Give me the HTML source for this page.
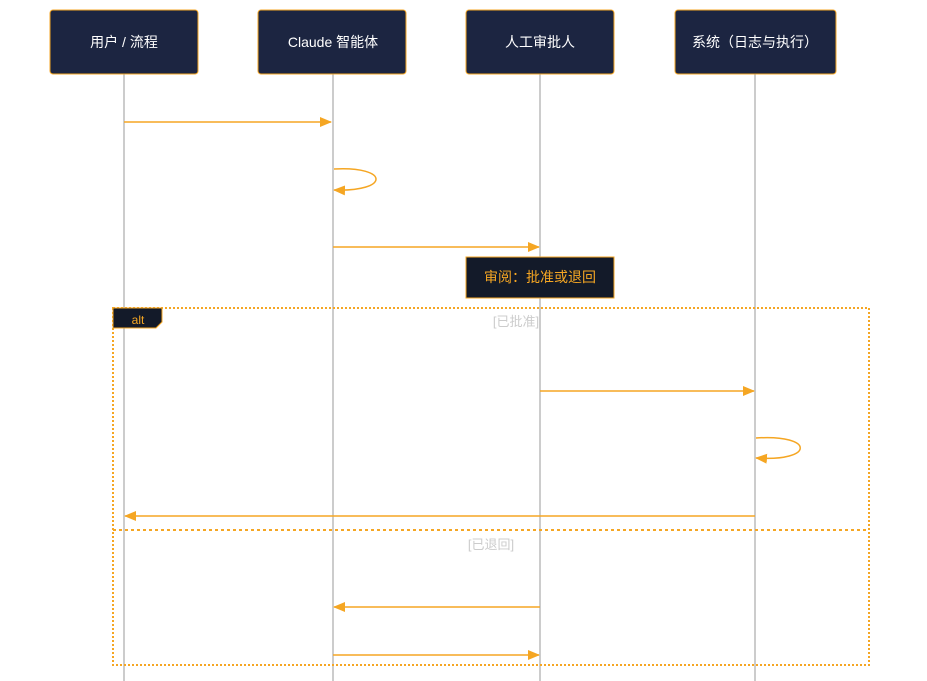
<!DOCTYPE html>
<html><head><meta charset="utf-8"><style>
html,body{margin:0;padding:0;background:#fff;width:927px;height:681px;overflow:hidden}
text{font-family:"Liberation Sans","Noto Sans CJK SC",sans-serif}
</style></head><body>
<svg width="927" height="681" viewBox="0 0 927 681" xmlns="http://www.w3.org/2000/svg">
<defs>
<marker id="a" markerWidth="12" markerHeight="10" refX="11" refY="5" orient="auto" markerUnits="userSpaceOnUse">
<path d="M0,0 L12,5 L0,10 z" fill="#f5a623"/></marker>
</defs>
<g stroke="#ccc" stroke-width="2">
<line x1="124" y1="74" x2="124" y2="681"/>
<line x1="333" y1="74" x2="333" y2="681"/>
<line x1="540" y1="74" x2="540" y2="681"/>
<line x1="755" y1="74" x2="755" y2="681"/>
</g>
<g fill="#1c2541" stroke="#f5a623" stroke-width="1">
<rect x="50" y="10" width="148" height="64" rx="3"/>
<rect x="258" y="10" width="148" height="64" rx="3"/>
<rect x="466" y="10" width="148" height="64" rx="3"/>
<rect x="675" y="10" width="161" height="64" rx="3"/>
</g>
<g fill="#fff" font-size="14" text-anchor="middle">
<text x="124" y="47">用户 / 流程</text>
<text x="333" y="47">Claude 智能体</text>
<text x="540" y="47">人工审批人</text>
<text x="755" y="47">系统（日志与执行）</text>
</g>
<g stroke="#f5a623" stroke-width="1.5" fill="none" marker-end="url(#a)">
<line x1="124" y1="122" x2="331" y2="122"/>
<path d="M334,169 C390,166 390,192 334,190"/>
<line x1="333" y1="247" x2="539" y2="247"/>
<line x1="540" y1="391" x2="754" y2="391"/>
<path d="M756,438 C815,434 815,462 756,458"/>
<line x1="755" y1="516" x2="125" y2="516"/>
<line x1="540" y1="607" x2="334" y2="607"/>
<line x1="333" y1="655" x2="539" y2="655"/>
</g>
<rect x="466" y="257" width="148" height="41" fill="#131a29" stroke="#f5a623"/>
<text x="540" y="282" fill="#f5a623" font-size="14" text-anchor="middle">审阅：批准或退回</text>
<rect x="113" y="308" width="756" height="357" fill="none" stroke="#f5a623" stroke-width="2" stroke-dasharray="2,2"/>
<line x1="113" y1="530" x2="869" y2="530" stroke="#f5a623" stroke-width="2" stroke-dasharray="3,3"/>
<path d="M113,308 L162,308 L162,322 L156,328 L113,328 z" fill="#131a29" stroke="#f5a623"/>
<text x="138" y="324" fill="#f5a623" font-size="12" text-anchor="middle">alt</text>
<text x="516" y="326" fill="#ccc" font-size="13" text-anchor="middle">[已批准]</text>
<text x="491" y="549" fill="#ccc" font-size="13" text-anchor="middle">[已退回]</text>
</svg>
</body></html>
